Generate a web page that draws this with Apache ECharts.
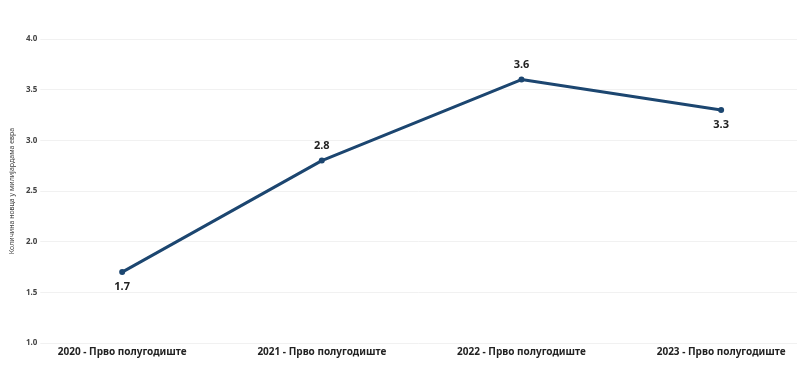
<!DOCTYPE html>
<html>
<head>
<meta charset="utf-8">
<script src="https://cdn.jsdelivr.net/npm/echarts@6/dist/echarts.min.js"></script>
<style>
  html, body { margin: 0; padding: 0; background: #ffffff; }
  #chart { width: 802px; height: 390px; }
</style>
</head>
<body>
<div id="chart"></div>
<script>
// Half-year periods and money amounts (billions of euro)
const periods = [
  '2020 - Прво полугодиште',
  '2021 - Прво полугодиште',
  '2022 - Прво полугодиште',
  '2023 - Прво полугодиште'
];
const amounts = [1.7, 2.8, 3.6, 3.3];
const labelPositions = ['bottom', 'top', 'top', 'bottom'];
const yTitle = 'Количина новца у милијардама евра';

const FONT = '"Noto Sans", "Open Sans", sans-serif';

const chart = echarts.init(document.getElementById('chart'));

const seriesData = amounts.map((v, i) => ({
  value: [i, v],
  label: { position: labelPositions[i] }
}));

chart.setOption({
  animation: false,
  backgroundColor: '#ffffff',
  grid: { left: 36, right: 5, top: 39, bottom: 47 },
  xAxis: {
    type: 'value',
    min: -0.41,
    max: 3.38,
    axisLine: { show: false },
    axisTick: { show: false },
    splitLine: { show: false },
    axisLabel: {
      customValues: periods.map((_, i) => i),
      formatter: v => periods[Math.round(v)] || '',
      color: '#222222',
      fontFamily: FONT,
      fontWeight: 'bold',
      fontSize: 10,
      margin: 4
    }
  },
  yAxis: {
    type: 'value',
    min: 1.0,
    max: 4.0,
    interval: 0.5,
    name: yTitle,
    nameLocation: 'middle',
    nameGap: 24,
    nameTextStyle: {
      color: '#444444',
      fontFamily: FONT,
      fontSize: 7
    },
    axisLine: { show: false },
    axisTick: { show: false },
    axisLabel: {
      formatter: v => v.toFixed(1),
      color: '#444444',
      fontFamily: FONT,
      fontWeight: 'bold',
      fontSize: 8,
      margin: 3
    },
    splitLine: { lineStyle: { color: '#f1f1f1', width: 1 } }
  },
  series: [{
    type: 'line',
    data: seriesData,
    symbol: 'circle',
    symbolSize: 6,
    lineStyle: { color: '#1c4670', width: 3 },
    itemStyle: { color: '#1c4670' },
    label: {
      show: true,
      formatter: p => p.value[1].toFixed(1),
      color: '#222222',
      fontFamily: FONT,
      fontWeight: 'bold',
      fontSize: 11,
      distance: 6
    }
  }]
});
</script>
</body>
</html>
